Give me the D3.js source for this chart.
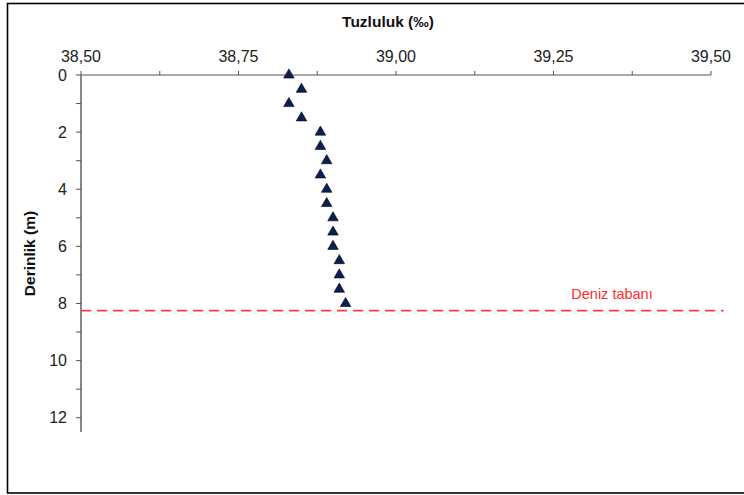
<!DOCTYPE html>
<html>
<head>
<meta charset="utf-8">
<script src="https://cdn.jsdelivr.net/npm/d3@7"></script>
<style>
  html, body { margin: 0; padding: 0; background: #fff; }
  svg { display: block; font-family: "Liberation Sans", Arial, sans-serif; }
</style>
</head>
<body>
<svg id="chart" width="744" height="495"></svg>
<script>
// Salinity profile (‰) against depth (m)
const depths   = [0, 0.5, 1, 1.5, 2, 2.5, 3, 3.5, 4, 4.5, 5, 5.5, 6, 6.5, 7, 7.5, 8];
const salinity = [38.83, 38.85, 38.83, 38.85, 38.88, 38.88, 38.89, 38.88, 38.89,
                  38.89, 38.90, 38.90, 38.90, 38.91, 38.91, 38.91, 38.92];
const xTicks = [38.50, 38.75, 39.00, 39.25, 39.50];
const xMinorTicks = [38.625, 38.875, 39.125, 39.375];
const yTicks = [0, 2, 4, 6, 8, 10, 12];
const yMinorTicks = [1, 3, 5, 7, 9, 11];
const seabedDepth = 8.25;
const seabedExtent = [38.50, 39.52];
const seabedLabel = "Deniz tabanı";

const svg = d3.select("#chart");

// frame
svg.append("rect")
  .attr("x", 7.5).attr("y", 3.5)
  .attr("width", 760).attr("height", 489.5)
  .attr("fill", "none").attr("stroke", "#000").attr("stroke-width", 1.6);

const x = d3.scaleLinear().domain([38.5, 39.5]).range([81, 711]);
const y = d3.scaleLinear().domain([0, 12.5]).range([75, 432]);

const fmt = d => d.toFixed(2).replace(".", ",");

// x axis on top: ticks pointing up, labels above
const xAxisG = svg.append("g").attr("transform", `translate(0,${y(0)})`);
xAxisG.append("line")
  .attr("x1", x(38.5)).attr("x2", x(39.5))
  .attr("stroke", "#555").attr("stroke-width", 1);
xAxisG.selectAll("line.tk").data(xTicks.concat(xMinorTicks)).join("line")
  .attr("class", "tk")
  .attr("x1", d => x(d)).attr("x2", d => x(d))
  .attr("y1", 0).attr("y2", -4)
  .attr("stroke", "#555").attr("stroke-width", 1);
xAxisG.selectAll("text").data(xTicks).join("text")
  .attr("x", d => x(d)).attr("y", -13)
  .attr("text-anchor", "middle")
  .attr("font-size", 16).attr("fill", "#222")
  .text(fmt);

// y axis: ticks pointing left
const yAxisG = svg.append("g").attr("transform", `translate(${x(38.5)},0)`);
yAxisG.append("line")
  .attr("y1", y(0)).attr("y2", y(12.5))
  .attr("stroke", "#888").attr("stroke-width", 2);
yAxisG.selectAll("line.tk").data(yTicks.concat(yMinorTicks)).join("line")
  .attr("class", "tk")
  .attr("y1", d => y(d)).attr("y2", d => y(d))
  .attr("x1", 0).attr("x2", -5)
  .attr("stroke", "#555").attr("stroke-width", 1);
yAxisG.selectAll("text").data(yTicks).join("text")
  .attr("x", -14).attr("y", d => y(d)).attr("dy", "0.36em")
  .attr("text-anchor", "end")
  .attr("font-size", 16).attr("fill", "#222")
  .text(d => d);

// axis titles
svg.append("text")
  .attr("x", 388).attr("y", 27)
  .attr("text-anchor", "middle")
  .attr("font-size", 15.5).attr("font-weight", "bold").attr("fill", "#111")
  .text("Tuzluluk (‰)");
svg.append("text")
  .attr("transform", `translate(35,${(y(0) + y(12.5)) / 2}) rotate(-90)`)
  .attr("text-anchor", "middle")
  .attr("font-size", 15.5).attr("font-weight", "bold").attr("fill", "#111")
  .text("Derinlik (m)");

// seabed line
svg.append("line")
  .attr("x1", x(seabedExtent[0])).attr("x2", x(seabedExtent[1]))
  .attr("y1", y(seabedDepth)).attr("y2", y(seabedDepth))
  .attr("stroke", "#ff3b3b").attr("stroke-width", 1.6)
  .attr("stroke-dasharray", "10,6");
svg.append("text")
  .attr("x", 612).attr("y", y(seabedDepth) - 12)
  .attr("text-anchor", "middle")
  .attr("font-size", 14.5).attr("fill", "#ff2a2a")
  .text(seabedLabel);

// triangle markers
const tri = d3.symbol().type(d3.symbolTriangle).size(48);
svg.append("g").selectAll("path")
  .data(depths.map((d, i) => ({ depth: d, s: salinity[i] })))
  .join("path")
  .attr("transform", d => `translate(${x(d.s)},${y(d.depth)})`)
  .attr("d", tri)
  .attr("fill", "#0b1f57")
  .attr("stroke", "#000").attr("stroke-width", 0.6);
</script>
</body>
</html>
